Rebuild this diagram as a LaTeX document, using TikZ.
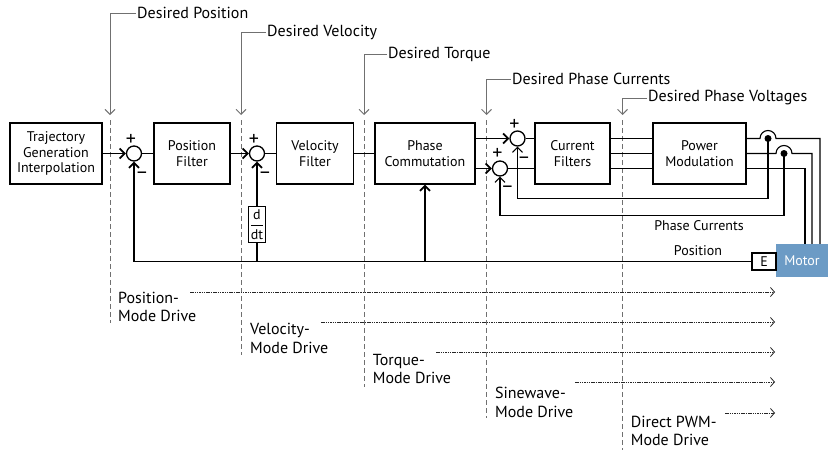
\documentclass[tikz,border=0pt]{standalone}
\usepackage{amsmath}
\usepackage{fontspec}
\setmainfont{PT Sans}
\usetikzlibrary{arrows.meta}

\definecolor{motorblue}{RGB}{108,155,197}
\definecolor{guidegray}{RGB}{112,112,112}
\newcommand{\boxfont}{\fontsize{14}{15.7}\selectfont}
\newcommand{\lblfont}{\fontsize{16}{18.5}\selectfont}

\tikzset{
  block/.style={draw,line width=1.3pt,minimum height=61pt,align=center,font=\boxfont,inner sep=1pt},
  sum/.style={draw,circle,line width=1.3pt,minimum size=15pt,inner sep=0pt},
  sig/.style={line width=1.8pt},
  sigarrow/.style={sig,-{Straight Barb[length=5pt,width=10pt]}},
  wire/.style={line width=1.1pt},
  wirearrow/.style={wire,-{Straight Barb[length=5pt,width=10pt]}},
  guide/.style={guidegray,line width=0.9pt,-{Straight Barb[length=5pt,width=10pt]}},
  boundary/.style={guidegray,line width=0.9pt,dash pattern=on 5pt off 3pt},
  modearrow/.style={black!85,line width=0.8pt,dash pattern=on 1.5pt off 0.8pt,-{Straight Barb[length=4pt,width=9pt]}},
  sign/.style={font=\fontsize{20}{20}\selectfont,inner sep=0pt},
  lbl/.style={font=\lblfont,inner sep=1pt},
  modelbl/.style={font=\lblfont,align=left,inner sep=0pt,anchor=west},
}

\begin{document}
\begin{tikzpicture}[x=1pt,y=-1pt]
    \useasboundingbox (0,0) rectangle (828,450);

    % boundaries between the drive modes
    \foreach \x/\yb in {110/323,241/355,364/387,486.5/418,622.5/450}
        \draw[boundary] (\x,120) -- (\x,\yb);

    % blocks
    \node[block,minimum width=92pt] (traj) at (56,153.5) {Trajectory\\Generation\\Interpolation};
    \node[block,minimum width=76pt] (posf) at (192,153.5) {Position\\Filter};
    \node[block,minimum width=77pt] (velf) at (315,153.5) {Velocity\\Filter};
    \node[block,minimum width=100pt] (comm) at (425,153.5) {Phase\\Commutation};
    \node[block,minimum width=75pt] (curf) at (572.5,153.5) {Current\\Filters};
    \node[block,minimum width=93pt] (pmod) at (699.5,153.5) {Power\\Modulation};
    \node[draw,line width=1.1pt,minimum width=17pt,minimum height=36pt,inner sep=0.5pt,font=\boxfont] (ddt) at (257,224.5) {$\dfrac{\text{d}}{\text{dt}}$};
    \node[fill=motorblue,text=white,minimum width=52pt,minimum height=33pt,font=\boxfont,inner sep=0pt] (motor) at (802,260.5) {Motor};
    \node[draw,line width=1.1pt,minimum width=24pt,minimum height=17pt,font=\boxfont,inner sep=0pt] (enc) at (764,261.5) {E};

    % summing junctions
    \node[sum] (s1) at (134,153.5) {};
    \node[sum] (s2) at (257,153.5) {};
    \node[sum] (s3) at (517.5,138.5) {};
    \node[sum] (s4) at (500,168.5) {};
    \node[sign] at (131,140) {+};
    \node[sign] at (142,175) {–};
    \node[sign] at (254,140) {+};
    \node[sign] at (265,175) {–};
    \node[sign] at (514.5,124.5) {+};
    \node[sign] at (524,160.5) {–};
    \node[sign] at (497.5,154) {+};
    \node[sign] at (507.5,189) {–};

    % forward path
    \draw[sigarrow] (traj) -- (s1);
    \draw[sig] (s1) -- (posf);
    \draw[sigarrow] (posf) -- (s2);
    \draw[sig] (s2) -- (velf);
    \draw[sig] (velf) -- (comm);
    \draw[sigarrow] (comm.east |- s3) -- (s3);
    \draw[sigarrow] (comm.east |- s4) -- (s4);
    \draw[sig] (s3) -- (curf.west |- s3);
    \draw[sig] (s4) -- (curf.west |- s4);
    \foreach \y in {138.5,153.5,168.5}
        \draw[sig] (curf.east |- 0,\y) -- (pmod.west |- 0,\y);

    % position feedback
    \draw[sigarrow] (enc.west) -| (s1.south);
    \draw[sig] (ddt.south) -- (ddt.south |- enc.west);
    \draw[sigarrow] (ddt.north) -- (s2.south);
    \draw[sigarrow] (comm.south |- enc.west) -- (comm.south);

    % phase outputs and current taps
    \coordinate (tap1) at (768,138.5);
    \coordinate (tap2) at (784,153.5);
    \coordinate (w1) at (820,138.5);
    \coordinate (w2) at (812,153.5);
    \coordinate (w3) at (805,168.5);
    \draw[wire] (pmod.east |- tap1) -- ([xshift=-8pt]tap1) arc[start angle=180,end angle=0,radius=8pt] -- (w1) -- (motor.north -| w1);
    \draw[wire] (pmod.east |- tap2) -- ([xshift=-8pt]tap2) arc[start angle=180,end angle=0,radius=8pt] -- (w2) -- (motor.north -| w2);
    \draw[wire] (pmod.east |- w3) -- (w3) -- (motor.north -| w3);
    \fill (tap1) circle[radius=3.5pt];
    \fill (tap2) circle[radius=3.5pt];
    \draw[wirearrow] (tap1) -- ++(0,60) -| (s3.south);
    \draw[wirearrow] (tap2) -- ++(0,62) -| (s4.south);
    \node[lbl,font=\boxfont] (ilbl) at (699,226) {Phase Currents};
    \node[lbl,font=\boxfont] (plbl) at (698,251) {Position};

    % desired signals
    \node[lbl,anchor=west] (dpos) at (136,13) {Desired Position};
    \node[lbl,anchor=west] (dvel) at (266,32.5) {Desired Velocity};
    \node[lbl,anchor=west] (dtrq) at (387,54.5) {Desired Torque};
    \node[lbl,anchor=west] (dcur) at (511,79) {Desired Phase Currents};
    \node[lbl,anchor=west] (dvolt) at (647,98) {Desired Phase Voltages};
    \coordinate (dpos tip) at (110,115);
    \coordinate (dvel tip) at (241,115);
    \coordinate (dtrq tip) at (364,115);
    \coordinate (dcur tip) at (486.5,115);
    \coordinate (dvolt tip) at (622.5,115);
    \foreach \n in {dpos,dvel,dtrq,dcur,dvolt}
        \draw[guide] (\n.west) -| (\n\space tip);

    % drive modes
    \node[modelbl] (pmode) at (118,307) {Position-\\Mode Drive};
    \node[modelbl] (vmode) at (250,338.5) {Velocity-\\Mode Drive};
    \node[modelbl] (tmode) at (372.7,369) {Torque-\\Mode Drive};
    \node[modelbl] (smode) at (495,402.5) {Sinewave-\\Mode Drive};
    \node[modelbl] (dmode) at (630.7,431) {Direct PWM-\\Mode Drive};
    \draw[modearrow] (190,292) -- (775,292);
    \draw[modearrow] (321,322) -- (775,322);
    \draw[modearrow] (436,352) -- (775,352);
    \draw[modearrow] (575,382) -- (775,382);
    \draw[modearrow] (725,413) -- (775,413);
\end{tikzpicture}
\end{document}
